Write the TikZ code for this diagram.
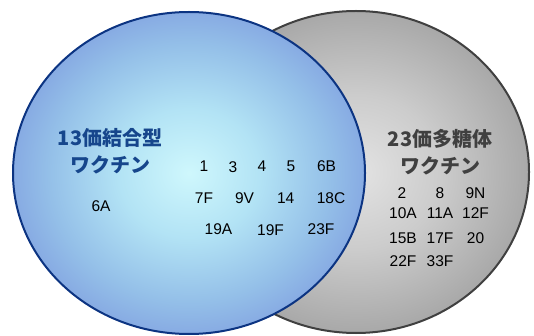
\documentclass[tikz,border=0pt]{standalone}
\usepackage{fontspec}
\setmainfont{Liberation Sans}
\newfontfamily\cjk{Noto Sans CJK JP}
\definecolor{blueedge}{RGB}{12,52,130}
\definecolor{grayedge}{RGB}{64,64,64}
\definecolor{bluetitle}{RGB}{22,70,140}
\definecolor{graytitle}{RGB}{64,64,64}
\pgfdeclareradialshading{blueshade}{\pgfpoint{0bp}{0bp}}{%
  rgb(0bp)=(0.81,0.97,0.99);
  rgb(10bp)=(0.70,0.89,0.96);
  rgb(20bp)=(0.58,0.75,0.91);
  rgb(25bp)=(0.53,0.67,0.89);
  rgb(50bp)=(0.53,0.67,0.89)}
\pgfdeclareradialshading{grayshade}{\pgfpoint{0bp}{0bp}}{%
  rgb(0bp)=(0.89,0.89,0.89);
  rgb(12bp)=(0.80,0.80,0.80);
  rgb(25bp)=(0.66,0.66,0.66);
  rgb(50bp)=(0.66,0.66,0.66)}
\tikzset{
  num/.style={font=\fontsize{15.5}{18}\selectfont, text=black, inner sep=0pt},
  bluetitlestyle/.style={font=\cjk\bfseries\fontsize{20}{27}\selectfont, text=bluetitle, align=center, inner sep=0pt},
  graytitlestyle/.style={font=\cjk\bfseries\fontsize{20}{27}\selectfont, text=graytitle, align=center, inner sep=0pt}
}
\begin{document}
\begin{tikzpicture}[x=1pt,y=-1pt]
\useasboundingbox (0,0) rectangle (534,336);
% gray ellipse (23-valent)
\path[shading=grayshade] (356,172) ellipse [x radius=173, y radius=161];
\draw[grayedge, line width=2pt] (356,172) ellipse [x radius=173, y radius=161];
% blue ellipse (13-valent)
\path[shading=blueshade] (189,173) ellipse [x radius=176, y radius=161];
\draw[blueedge, line width=2pt] (189,173) ellipse [x radius=176, y radius=161];
% titles
\node[bluetitlestyle] (t13) at (110,151) {13価結合型\\ワクチン};
\node[graytitlestyle] (t23) at (440,152) {23価多糖体\\ワクチン};
% left-only
\node[num] (s6A) at (101,206) {6A};
% shared
\node[num] (s1) at (204,166) {1};
\node[num] (s3) at (233,167) {3};
\node[num] (s4) at (262,166) {4};
\node[num] (s5) at (291,166) {5};
\node[num] (s6B) at (326.5,166) {6B};
\node[num] (s7F) at (204,198) {7F};
\node[num] (s9V) at (244.5,198) {9V};
\node[num] (s14) at (285.7,198) {14};
\node[num] (s18C) at (331,198) {18C};
\node[num] (s19A) at (218.5,229) {19A};
\node[num] (s19F) at (270.5,230) {19F};
\node[num] (s23F) at (321,229) {23F};
% right-only
\node[num] (s2) at (402,193) {2};
\node[num] (s8) at (440,193) {8};
\node[num] (s9N) at (475.5,193) {9N};
\node[num] (s10A) at (403,213) {10A};
\node[num] (s11A) at (440,213) {11A};
\node[num] (s12F) at (475.5,213) {12F};
\node[num] (s15B) at (403,238) {15B};
\node[num] (s17F) at (440,238) {17F};
\node[num] (s20) at (475.5,238) {20};
\node[num] (s22F) at (403,261) {22F};
\node[num] (s33F) at (440,261) {33F};
\end{tikzpicture}
\end{document}
